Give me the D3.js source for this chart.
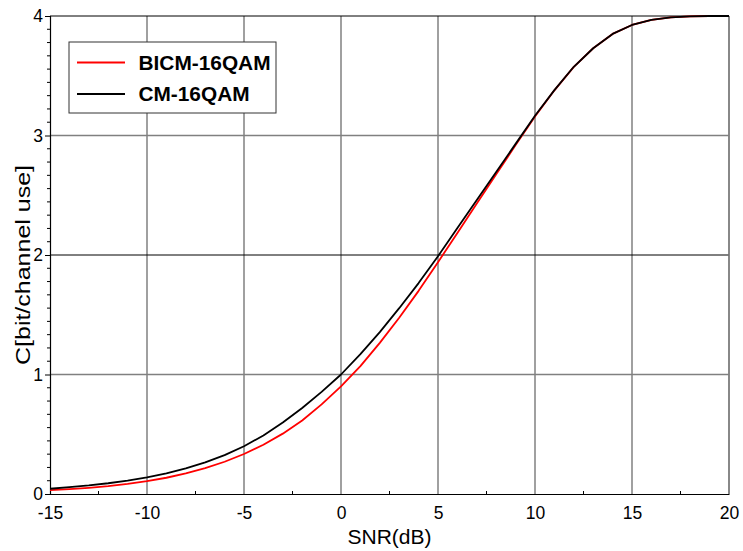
<!DOCTYPE html>
<html>
<head>
<meta charset="utf-8">
<script src="https://cdn.jsdelivr.net/npm/d3@7"></script>
<style>
  html, body { margin: 0; padding: 0; background: #fff; }
  svg { display: block; font-family: "Liberation Sans", Arial, sans-serif; }
</style>
</head>
<body>
<svg id="chart" width="743" height="551"></svg>
<script>
const snr = [-15,-14,-13,-12,-11,-10,-9,-8,-7,-6,-5,-4,-3,-2,-1,0,1,2,3,4,5,6,7,8,9,10,11,12,13,14,15,16,17,18,19,20];
const bicm16qam = [0.032,0.041,0.052,0.066,0.085,0.108,0.136,0.172,0.216,0.270,0.335,0.412,0.505,0.615,0.750,0.900,1.070,1.265,1.475,1.700,1.940,2.185,2.430,2.675,2.920,3.160,3.378,3.574,3.730,3.850,3.925,3.968,3.988,3.997,4.0,4.0];
const cm16qam = [0.044,0.058,0.072,0.090,0.112,0.140,0.172,0.215,0.265,0.325,0.400,0.490,0.598,0.720,0.855,1.000,1.170,1.355,1.555,1.765,1.990,2.225,2.460,2.695,2.930,3.165,3.380,3.575,3.730,3.850,3.925,3.968,3.988,3.997,4.0,4.0];
const xTicks = [-15,-10,-5,0,5,10,15,20];
const yTicks = [0,1,2,3,4];
const seriesNames = ["BICM-16QAM","CM-16QAM"];
const seriesColors = ["#ff0000","#000000"];

const svg = d3.select("#chart");
const L = 50, R = 729, T = 16, B = 494;
const x = d3.scaleLinear().domain([-15,20]).range([L,R]);
const y = d3.scaleLinear().domain([0,4]).range([B,T]);
const fmt = d => String(d);

// vertical grid
svg.append("g").selectAll("line").data(xTicks.slice(1)).join("line")
  .attr("x1", d => x(d)).attr("x2", d => x(d)).attr("y1", T).attr("y2", B)
  .attr("stroke", "#808080").attr("stroke-width", 1.5);
// horizontal grid
svg.append("g").selectAll("line").data(yTicks.slice(1,4)).join("line")
  .attr("x1", L).attr("x2", R).attr("y1", d => y(d)).attr("y2", d => y(d))
  .attr("stroke", d => d === 2 ? "#000" : "#808080")
  .attr("stroke-width", d => d === 2 ? 1 : 1.5);
// top border
svg.append("line").attr("x1", L).attr("x2", R).attr("y1", y(4)).attr("y2", y(4))
  .attr("stroke", "#000").attr("stroke-width", 1);

// minor ticks x
const xMinor = d3.range(-12.5, 20, 5);
svg.append("g").selectAll("line").data(xMinor).join("line")
  .attr("x1", d => x(d)).attr("x2", d => x(d)).attr("y1", B).attr("y2", B-3)
  .attr("stroke", "#000").attr("stroke-width", 1);
// minor ticks y
const yMinor = [];
for (let k = 0; k < 4; k++) for (let j = 1; j < 9; j++) yMinor.push(k + j/9);
svg.append("g").selectAll("line").data(yMinor).join("line")
  .attr("x1", L-3).attr("x2", L).attr("y1", d => y(d)).attr("y2", d => y(d))
  .attr("stroke", "#000").attr("stroke-width", 1);

// axes
const xAxis = svg.append("g").attr("transform", `translate(0,${B})`)
  .call(d3.axisBottom(x).tickValues(xTicks).tickSize(0).tickPadding(13).tickFormat(fmt));
xAxis.select(".domain").attr("stroke", "#000").attr("stroke-width", 1.2);
xAxis.selectAll("text").attr("font-size", 17.5).attr("fill", "#000")
  .attr("font-family", "Liberation Sans, Arial, sans-serif");

const yAxis = svg.append("g").attr("transform", `translate(${L},0)`)
  .call(d3.axisLeft(y).tickValues(yTicks).tickSize(5).tickPadding(2).tickFormat(fmt));
yAxis.select(".domain").attr("stroke", "#000").attr("stroke-width", 1.2);
yAxis.selectAll(".tick line").attr("stroke", "#000");
yAxis.selectAll("text").attr("font-size", 17.5).attr("fill", "#000")
  .attr("font-family", "Liberation Sans, Arial, sans-serif");

// right border
svg.append("line").attr("x1", R).attr("x2", R).attr("y1", T).attr("y2", B)
  .attr("stroke", "#808080").attr("stroke-width", 1.5);

// curves
const line = d3.line().x((d,i) => x(snr[i])).y(d => y(d));
[bicm16qam, cm16qam].forEach((s, k) => {
  svg.append("path").datum(s).attr("d", line).attr("fill", "none")
    .attr("stroke", seriesColors[k]).attr("stroke-width", 1.8)
    .attr("stroke-linejoin", "round");
});

// axis titles
svg.append("text").attr("x", 389.5).attr("y", 543.5).attr("text-anchor", "middle")
  .attr("font-size", 20).attr("textLength", 84).attr("lengthAdjust", "spacingAndGlyphs")
  .text("SNR(dB)");
svg.append("text").attr("transform", "translate(30,265) rotate(-90)").attr("text-anchor", "middle")
  .attr("font-size", 20).attr("textLength", 200).attr("lengthAdjust", "spacingAndGlyphs")
  .text("C[bit/channel use]");

// legend
const lg = svg.append("g");
lg.append("rect").attr("x", 69).attr("y", 42).attr("width", 207).attr("height", 71)
  .attr("fill", "#fff").attr("stroke", "#333").attr("stroke-width", 1);
const legY = [62.5, 94];
const legW = [132, 111];
seriesNames.forEach((n, k) => {
  lg.append("line").attr("x1", 77).attr("x2", 125).attr("y1", legY[k]).attr("y2", legY[k])
    .attr("stroke", seriesColors[k]).attr("stroke-width", 1.8);
  lg.append("text").attr("x", 138.5).attr("y", legY[k] + 7).attr("font-size", 20)
    .attr("font-weight", "bold").attr("textLength", legW[k]).attr("lengthAdjust", "spacingAndGlyphs")
    .text(n);
});
</script>
</body>
</html>
